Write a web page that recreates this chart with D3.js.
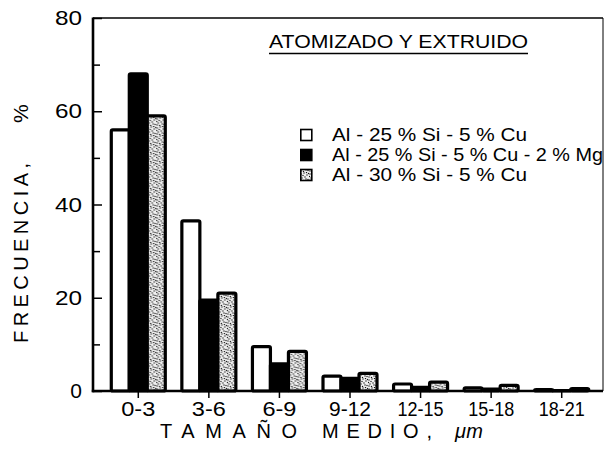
<!DOCTYPE html>
<html>
<head>
<meta charset="utf-8">
<script src="https://cdn.jsdelivr.net/npm/d3@7"></script>
<style>
  html, body { margin: 0; padding: 0; background: #fff; }
  svg { display: block; font-family: "Liberation Sans", Arial, sans-serif; }
</style>
</head>
<body>
<svg id="chart" width="606" height="453"></svg>
<script>
// Size classes of the powder particles (µm)
const categories = ["0-3", "3-6", "6-9", "9-12", "12-15", "15-18", "18-21"];
// Alloy names, in legend order
const seriesNames = [
  "Al - 25 % Si - 5 % Cu",
  "Al - 25 % Si - 5 % Cu - 2 % Mg",
  "Al - 30 % Si - 5 % Cu"
];
// Frequency (%) per size class for each alloy
const al25Si5Cu = [56, 36.5, 9.5, 3.2, 1.5, 0.7, 0.3];
const al25Si5Cu2Mg = [68, 19.5, 5.8, 2.7, 0.8, 0.4, 0.1];
const al30Si5Cu = [59, 21, 8.5, 3.8, 1.9, 1.2, 0.5];
// Axis ticks
const yMajorTicks = [0, 20, 40, 60, 80];
const yMinorTicks = [10, 30, 50, 70];

const seriesValues = [al25Si5Cu, al25Si5Cu2Mg, al30Si5Cu];

const svg = d3.select("#chart");
const plotLeft = 93, plotRight = 603, plotTop = 18, plotBottom = 391;

// Stippled fill for the third alloy
const defs = svg.append("defs");
const pat = defs.append("pattern")
  .attr("id", "stipple")
  .attr("patternUnits", "userSpaceOnUse")
  .attr("width", 9).attr("height", 9);
pat.append("rect").attr("width", 9).attr("height", 9).attr("fill", "#f0f0f0");
[[1, 2], [4, 1], [7, 3], [2, 6], [5, 5], [8, 7.5], [3.5, 8.5], [6.5, 0.5],
 [0.5, 4.5], [6, 7], [3, 3.5], [8.5, 1.5], [1, 8]]
  .forEach(([cx, cy]) => pat.append("circle").attr("cx", cx).attr("cy", cy).attr("r", 0.7).attr("fill", "#111"));

const fills = ["#fff", "#000", "url(#stipple)"];

const x = d3.scaleBand().domain(categories).range([103, 597]).padding(0);
const xInner = d3.scaleBand().domain([0, 1, 2]).range([-27, 27]).padding(0);
const y = d3.scaleLinear().domain([0, 80]).range([plotBottom, plotTop]);

// Bars
const groups = svg.append("g").selectAll("g")
  .data(categories)
  .join("g")
  .attr("transform", d => `translate(${x(d) + x.bandwidth() / 2},0)`);

groups.selectAll("rect")
  .data((d, i) => seriesValues.map((vals, s) => ({ s, v: vals[i] })))
  .join("rect")
  .attr("x", d => xInner(d.s))
  .attr("width", xInner.bandwidth())
  .attr("y", d => y(d.v))
  .attr("height", d => y(0) - y(d.v))
  .attr("rx", 1.5)
  .attr("fill", d => fills[d.s])
  .attr("stroke", "#000")
  .attr("stroke-width", 3.2)
  .attr("stroke-linejoin", "round");

// Frame
const frame = svg.append("g").attr("fill", "none").attr("stroke", "#000");
frame.append("line").attr("x1", plotLeft).attr("x2", plotRight).attr("y1", plotTop).attr("y2", plotTop).attr("stroke-width", 1.3);
frame.append("line").attr("x1", plotRight).attr("x2", plotRight).attr("y1", plotTop).attr("y2", plotBottom).attr("stroke-width", 1);
frame.append("line").attr("x1", plotLeft).attr("x2", plotLeft).attr("y1", plotTop - 0.6).attr("y2", plotBottom + 1.2).attr("stroke-width", 2.6);
frame.append("line").attr("x1", plotLeft - 1.2).attr("x2", plotRight).attr("y1", plotBottom).attr("y2", plotBottom).attr("stroke-width", 2.6);

// Y axis: major ticks with labels, minor ticks without
const yAxis = svg.append("g")
  .attr("transform", `translate(${plotLeft},0)`)
  .call(d3.axisLeft(y).tickValues(yMajorTicks).tickSize(-9).tickPadding(11).tickFormat(d3.format("d")));
yAxis.select(".domain").remove();
yAxis.selectAll(".tick line").attr("stroke-width", 1.5);
yAxis.selectAll(".tick text").attr("font-size", 21).attr("font-family", "Liberation Sans, Arial, sans-serif").attr("fill", "#000")
  .filter(d => d >= 10)
  .attr("textLength", 27).attr("lengthAdjust", "spacingAndGlyphs");

const yMinor = svg.append("g")
  .attr("transform", `translate(${plotLeft},0)`)
  .call(d3.axisLeft(y).tickValues(yMinorTicks).tickSize(-7).tickFormat(""));
yMinor.select(".domain").remove();
yMinor.selectAll(".tick line").attr("stroke-width", 1.5);

// X axis
const labelWidth = { 3: 34, 4: 42, 5: 46 };
const xAxis = svg.append("g")
  .attr("transform", `translate(0,${plotBottom})`)
  .call(d3.axisBottom(x).tickSize(7).tickPadding(4));
xAxis.select(".domain").remove();
xAxis.selectAll(".tick line").attr("stroke-width", 1.5);
xAxis.selectAll(".tick text")
  .attr("font-size", 20)
  .attr("font-family", "Liberation Sans, Arial, sans-serif")
  .attr("fill", "#000")
  .attr("textLength", d => labelWidth[d.length])
  .attr("lengthAdjust", "spacingAndGlyphs");

// Axis titles
const textStyle = sel => sel.attr("font-size", 20).attr("fill", "#000");

svg.append("text").call(textStyle)
  .attr("transform", "translate(28,343) rotate(-90)")
  .attr("textLength", 180).attr("lengthAdjust", "spacing")
  .text("FRECUENCIA,");
svg.append("text").call(textStyle)
  .attr("transform", "translate(28,123) rotate(-90)")
  .attr("font-size", 21)
  .text("%");

svg.append("text").call(textStyle)
  .attr("x", 160).attr("y", 438)
  .attr("textLength", 137).attr("lengthAdjust", "spacing")
  .text("TAMAÑO");
svg.append("text").call(textStyle)
  .attr("x", 322).attr("y", 438)
  .attr("textLength", 110).attr("lengthAdjust", "spacing")
  .text("MEDIO,");
svg.append("text").call(textStyle)
  .attr("x", 455).attr("y", 438)
  .attr("font-style", "italic")
  .attr("textLength", 28).attr("lengthAdjust", "spacing")
  .text("μm");

// Title with underline
svg.append("text").call(textStyle)
  .attr("x", 269).attr("y", 48)
  .attr("font-size", 19)
  .attr("textLength", 259).attr("lengthAdjust", "spacingAndGlyphs")
  .text("ATOMIZADO Y EXTRUIDO");
svg.append("line")
  .attr("x1", 269).attr("x2", 528).attr("y1", 53.5).attr("y2", 53.5)
  .attr("stroke", "#000").attr("stroke-width", 1.3);

// Legend
const legendWidths = [195, 271, 195];
const legend = svg.append("g").selectAll("g")
  .data(seriesNames)
  .join("g")
  .attr("transform", (d, i) => `translate(300,${141 + i * 20})`);
legend.append("rect")
  .attr("x", 0.8).attr("y", -11.5).attr("width", 11).attr("height", 11)
  .attr("fill", (d, i) => fills[i])
  .attr("stroke", "#000").attr("stroke-width", 1.6);
legend.append("text").call(textStyle)
  .attr("x", 32).attr("y", 0)
  .attr("font-size", 17.5)
  .attr("textLength", (d, i) => legendWidths[i]).attr("lengthAdjust", "spacingAndGlyphs")
  .text(d => d);
</script>
</body>
</html>
